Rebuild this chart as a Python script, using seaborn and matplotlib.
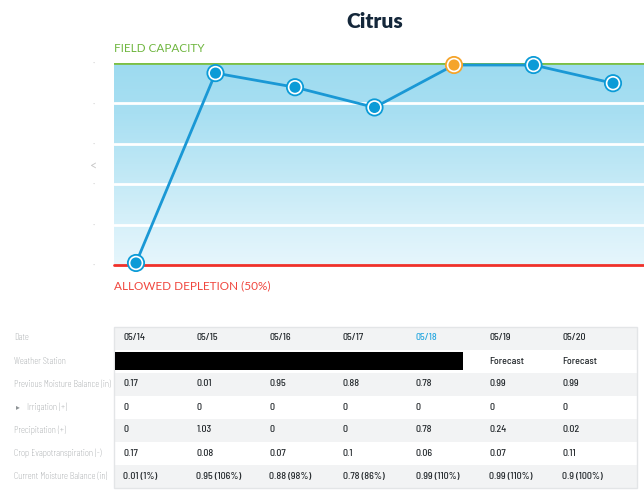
import numpy as np
import pandas as pd
import matplotlib
matplotlib.use("Agg")
import matplotlib.pyplot as plt
from matplotlib.colors import LinearSegmentedColormap
from matplotlib.patches import Rectangle
import seaborn as sns

# ---------------- data ----------------
dates = ["05/14", "05/15", "05/16", "05/17", "05/18", "05/19", "05/20"]
moisture = [0.01, 0.95, 0.88, 0.78, 0.99, 0.99, 0.90]
today = "05/18"
weather_station = ["", "", "", "", "", "Forecast", "Forecast"]
prev_balance = ["0.17", "0.01", "0.95", "0.88", "0.78", "0.99", "0.99"]
irrigation = ["0", "0", "0", "0", "0", "0", "0"]
precipitation = ["0", "1.03", "0", "0", "0.78", "0.24", "0.02"]
crop_et = ["0.17", "0.08", "0.07", "0.1", "0.06", "0.07", "0.11"]
current_balance = ["0.01 (1%)", "0.95 (106%)", "0.88 (98%)", "0.78 (86%)",
                   "0.99 (110%)", "0.99 (110%)", "0.9 (100%)"]
row_labels = ["Date", "Weather Station", "Previous Moisture Balance (in)",
              "Irrigation (+)", "Precipitation (+)", "Crop Evapotranspiration (-)",
              "Current Moisture Balance (in)"]
y_ticks = [0, 0.2, 0.4, 0.6, 0.8, 1.0]

df = pd.DataFrame({"date": dates, "moisture": moisture})
df["pos"] = np.arange(len(dates))
df["kind"] = np.where(df["date"] == today, "today", "other")

# ---------------- figure ----------------
sns.set_style("white")
plt.rcParams["font.family"] = ["Lato", "DejaVu Sans"]
W, H = 644, 500
fig = plt.figure(figsize=(W / 100, H / 100), dpi=100)

def fx(px):
    return px / W

def fy(py):
    return 1 - py / H

ax_l, ax_r, ax_t, ax_b = 114, 644, 63, 265
ax = fig.add_axes([fx(ax_l), fy(ax_b), fx(ax_r - ax_l), (ax_b - ax_t) / H])
x0 = -22 / 79.5
x1 = 6 + 31 / 79.5
ax.set_xlim(x0, x1)
ax.set_ylim(0, 1.0)

# gradient background
cmap = LinearSegmentedColormap.from_list(
    "bg", [(0, "#e6f6fc"), (0.25, "#d3eff9"), (0.5, "#bde7f5"),
           (0.75, "#a8dff2"), (1.0, "#9ddbf0")])
grad = np.linspace(0, 1, 256).reshape(-1, 1)
ax.imshow(grad, extent=[x0, x1, 0, 1.0], origin="lower", aspect="auto",
          cmap=cmap, zorder=0)

# grid lines
for v in y_ticks[1:-1]:
    ax.axhline(v, color="white", lw=2, zorder=1)
ax.axhline(1.0, color="#7cbf45", lw=2, zorder=2)
ax.axhline(0.0, color="#f0312a", lw=2, zorder=2, clip_on=False)

# line + markers
sns.lineplot(data=df, x="pos", y="moisture", ax=ax, color="#1a98d5", lw=2,
             zorder=3, legend=False)
palette = {"other": "#0b9bd7", "today": "#f5a42a"}
sns.scatterplot(data=df, x="pos", y="moisture", hue="kind", palette=palette,
                s=170, edgecolor="none", ax=ax, zorder=4, legend=False,
                clip_on=False)
sns.scatterplot(data=df, x="pos", y="moisture", hue="kind", palette=palette,
                s=85, edgecolor="white", linewidth=1.2, ax=ax, zorder=5,
                legend=False, clip_on=False)

ax.set_xlabel("")
ax.set_ylabel("")
ax.set_xticks([])
ax.set_yticks(y_ticks)
ax.set_yticklabels(["·"] * len(y_ticks), color="#cfcfcf", fontsize=6)
ax.tick_params(axis="y", length=0, pad=14)
for s in ax.spines.values():
    s.set_visible(False)

# text
fig.text(fx(375), fy(22), "Citrus", ha="center", va="center",
         fontsize=15, fontweight="heavy", color="#14273a")
fig.text(fx(114), fy(49), "FIELD CAPACITY", ha="left", va="center",
         fontsize=8.5, color="#6fb63f")
fig.text(fx(114), fy(286), "ALLOWED DEPLETION (50%)", ha="left", va="center",
         fontsize=8.5, color="#f0473f")
fig.text(fx(94), fy(166), "<", ha="center", va="center", fontsize=9,
         color="#c8c8c8")

# ---------------- table ----------------
label_font = ["Barlow Condensed", "DejaVu Sans"]
value_font = ["Barlow Semi Condensed", "DejaVu Sans"]
row_y = [338, 361, 384, 407, 430, 453, 476]
band_h = 23
tbl_l, tbl_r = 114, 637
col_x = [123 + 73.2 * i for i in range(7)]

# background bands
for i, yy in enumerate(row_y):
    color = "#f2f3f4" if i % 2 == 0 else "white"
    fig.patches.append(Rectangle((fx(tbl_l), fy(yy + band_h / 2)),
                                 fx(tbl_r - tbl_l), band_h / H,
                                 transform=fig.transFigure, facecolor=color,
                                 edgecolor="none", zorder=0))
fig.patches.append(Rectangle((fx(tbl_l), fy(row_y[-1] + band_h / 2)),
                             fx(tbl_r - tbl_l), (row_y[-1] - row_y[0] + band_h) / H,
                             transform=fig.transFigure, facecolor="none",
                             edgecolor="#e3e5e7", lw=1, zorder=1))
# redaction block in weather station row
fig.patches.append(Rectangle((fx(115), fy(370)), fx(463 - 115), 18 / H,
                             transform=fig.transFigure, facecolor="black",
                             edgecolor="none", zorder=2))

label_color = "#8e9396"
for i, (lab, yy) in enumerate(zip(row_labels, row_y)):
    if lab.startswith("Irrigation"):
        fig.text(fx(16), fy(yy), "▸", ha="left", va="center", fontsize=5.5,
                 color=label_color, family=["DejaVu Sans"])
        fig.text(fx(27), fy(yy), lab, ha="left", va="center", fontsize=7.2,
                 color=label_color, family=label_font, fontweight="light")
    else:
        fig.text(fx(14), fy(yy), lab, ha="left", va="center", fontsize=7.2,
                 color=label_color, family=label_font, fontweight="light")

rows = [dates, weather_station, prev_balance, irrigation, precipitation,
        crop_et, current_balance]
for r, (vals, yy) in enumerate(zip(rows, row_y)):
    for c, v in enumerate(vals):
        if not v:
            continue
        col = "#29a8e0" if (r == 0 and v == today) else "#22272b"
        fig.text(fx(col_x[c]), fy(yy), v, ha="left", va="center", fontsize=7.2,
                 color=col, family=value_font, fontweight="medium")

fig.savefig("out.png", dpi=100)
